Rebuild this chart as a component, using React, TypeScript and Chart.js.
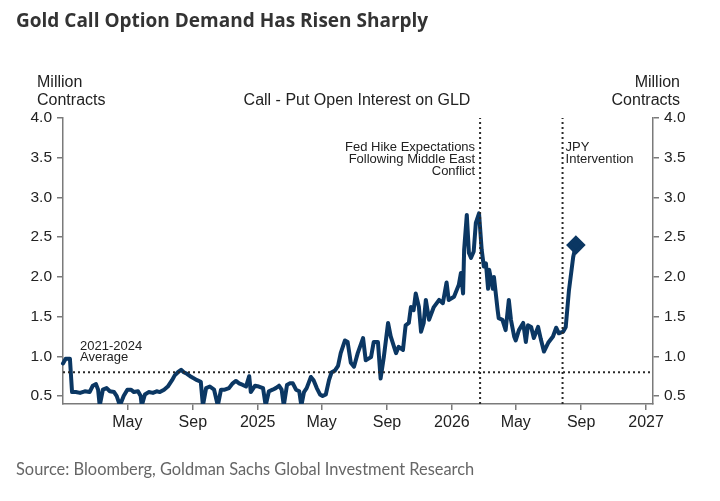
import React, { useEffect, useRef } from "react";
import { Chart, registerables } from "chart.js";

Chart.register(...registerables);

// Call - Put open interest on GLD, million contracts
const dates = [
  "2024-01-01", "2024-01-06", "2024-01-14", "2024-01-18", "2024-01-25", "2024-02-02", "2024-02-11", "2024-02-20",
  "2024-02-26", "2024-03-03", "2024-03-07", "2024-03-10", "2024-03-16", "2024-03-23", "2024-03-29", "2024-04-06",
  "2024-04-11", "2024-04-17", "2024-04-24", "2024-05-01", "2024-05-08", "2024-05-13", "2024-05-21", "2024-05-26",
  "2024-05-28", "2024-06-03", "2024-06-10", "2024-06-18", "2024-06-25", "2024-07-01", "2024-07-09", "2024-07-16",
  "2024-07-24", "2024-07-29", "2024-08-04", "2024-08-10", "2024-08-15", "2024-08-21", "2024-08-27", "2024-09-01",
  "2024-09-09", "2024-09-16", "2024-09-20", "2024-09-26", "2024-10-03", "2024-10-11", "2024-10-18", "2024-10-24",
  "2024-10-31", "2024-11-08", "2024-11-15", "2024-11-21", "2024-11-27", "2024-12-04", "2024-12-10", "2024-12-16",
  "2024-12-19", "2024-12-27", "2025-01-03", "2025-01-11", "2025-01-16", "2025-01-22", "2025-01-29", "2025-02-04",
  "2025-02-10", "2025-02-15", "2025-02-19", "2025-02-25", "2025-03-02", "2025-03-08", "2025-03-14", "2025-03-20",
  "2025-03-24", "2025-03-29", "2025-04-03", "2025-04-11", "2025-04-16", "2025-04-22", "2025-04-28", "2025-05-03",
  "2025-05-09", "2025-05-15", "2025-05-20", "2025-05-26", "2025-06-01", "2025-06-06", "2025-06-14", "2025-06-19",
  "2025-06-25", "2025-07-01", "2025-07-08", "2025-07-18", "2025-07-23", "2025-08-02", "2025-08-07", "2025-08-15",
  "2025-08-20", "2025-08-26", "2025-09-03", "2025-09-08", "2025-09-18", "2025-09-23", "2025-10-01", "2025-10-06",
  "2025-10-12", "2025-10-16", "2025-10-21", "2025-10-25", "2025-10-31", "2025-11-04", "2025-11-09", "2025-11-13",
  "2025-11-19", "2025-11-28", "2025-12-08", "2025-12-15", "2025-12-22", "2025-12-26", "2026-01-05", "2026-01-14",
  "2026-01-18", "2026-01-22", "2026-01-24", "2026-01-29", "2026-02-02", "2026-02-06", "2026-02-11", "2026-02-15",
  "2026-02-21", "2026-02-26", "2026-03-02", "2026-03-06", "2026-03-10", "2026-03-12", "2026-03-19", "2026-03-21",
  "2026-03-28", "2026-03-30", "2026-04-06", "2026-04-12", "2026-04-18", "2026-04-22", "2026-04-28", "2026-05-01",
  "2026-05-07", "2026-05-15", "2026-05-20", "2026-05-24", "2026-05-30", "2026-06-04", "2026-06-12", "2026-06-17",
  "2026-06-23", "2026-07-01", "2026-07-10", "2026-07-16", "2026-07-21", "2026-07-29", "2026-08-03", "2026-08-09",
  "2026-08-17", "2026-08-22",
];
const callPutOI = [
  0.91, 0.97, 0.97, 0.55, 0.55, 0.54, 0.56, 0.55,
  0.63, 0.65, 0.58, 0.38, 0.58, 0.6, 0.56, 0.55,
  0.5, 0.38, 0.5, 0.58, 0.58, 0.55, 0.56, 0.5,
  0.38, 0.52, 0.55, 0.54, 0.56, 0.55, 0.58, 0.62,
  0.7, 0.76, 0.8, 0.83, 0.8, 0.78, 0.75, 0.73,
  0.7, 0.68, 0.38, 0.6, 0.62, 0.58, 0.38, 0.58,
  0.58, 0.6, 0.66, 0.69, 0.66, 0.64, 0.62, 0.75,
  0.55, 0.63, 0.62, 0.6, 0.38, 0.56, 0.58, 0.6,
  0.63, 0.58, 0.38, 0.64, 0.66, 0.66, 0.58, 0.56,
  0.38, 0.55, 0.6, 0.74, 0.7, 0.6, 0.52, 0.5,
  0.52, 0.7, 0.8, 0.82, 0.88, 1.04, 1.2, 1.18,
  0.92, 0.87, 1.04, 1.23, 0.95, 0.99, 1.18, 1.18,
  0.72, 0.99, 1.42, 1.25, 1.04, 1.12, 1.08, 1.39,
  1.42, 1.62, 1.58, 1.79, 1.62, 1.31, 1.42, 1.71,
  1.46, 1.62, 1.71, 1.67, 1.93, 1.71, 1.75, 1.9,
  2.05, 1.79, 2.34, 2.78, 2.3, 2.24, 2.32, 2.68,
  2.8, 2.34, 2.13, 2.17, 1.85, 2.09, 1.85, 2.0,
  1.58, 1.48, 1.46, 1.33, 1.71, 1.46, 1.25, 1.2,
  1.33, 1.42, 1.18, 1.39, 1.37, 1.23, 1.37, 1.22,
  1.06, 1.17, 1.25, 1.36, 1.29, 1.31, 1.37, 1.83,
  2.25, 2.4,
];

const averageLevel = 0.8; // 2021-2024 average
const fedHikeDate = "2026-02-23";
const jpyInterventionDate = "2026-07-28";

const xStart = "2024-01-01";
const xEnd = "2027-01-14";
const tickDates = [
  "2024-05-01", "2024-09-01", "2025-01-01", "2025-05-01", "2025-09-01",
  "2026-01-01", "2026-05-01", "2026-09-01", "2027-01-01",
];
const tickLabels = ["May", "Sep", "2025", "May", "Sep", "2026", "May", "Sep", "2027"];
const yTicks = [0.5, 1.0, 1.5, 2.0, 2.5, 3.0, 3.5, 4.0];
const yMin = 0.4;
const yMax = 4.0;

const dayOf = (s: string) => (Date.parse(s) - Date.parse(xStart)) / 86400000;

const FONT = "'Liberation Sans', Arial, sans-serif";
const INK = "#222";
const AXIS = "#7a7a7a";
const LINE = "#0b3763";
const DOTS = "#2a2a2a";

const textPlugin = {
  id: "chartText",
  afterDraw(chart: any) {
    const { ctx } = chart;
    const x = chart.scales.x;
    const fedX = x.getPixelForValue(dayOf(fedHikeDate));
    const jpyX = x.getPixelForValue(dayOf(jpyInterventionDate));
    ctx.save();
    ctx.fillStyle = INK;
    ctx.textBaseline = "alphabetic";
    ctx.font = `16px ${FONT}`;
    ctx.textAlign = "left";
    ctx.fillText("Million", 37, 87);
    ctx.fillText("Contracts", 37, 105);
    ctx.textAlign = "right";
    ctx.fillText("Million", 680, 87);
    ctx.fillText("Contracts", 680, 105);
    ctx.textAlign = "center";
    ctx.fillText("Call - Put Open Interest on GLD", 357, 105);

    ctx.font = `13px ${FONT}`;
    ctx.textAlign = "right";
    ctx.fillText("Fed Hike Expectations", fedX - 5, 151);
    ctx.fillText("Following Middle East", fedX - 5, 163);
    ctx.fillText("Conflict", fedX - 5, 175);
    ctx.textAlign = "left";
    ctx.fillText("JPY", jpyX + 3, 151);
    ctx.fillText("Intervention", jpyX + 3, 163);
    ctx.fillText("2021-2024", 80, 349.5);
    ctx.fillText("Average", 80, 361);
    ctx.restore();
  },
};

export default function App() {
  const canvasRef = useRef<HTMLCanvasElement>(null);

  useEffect(() => {
    const points = dates.map((d, i) => ({ x: dayOf(d), y: callPutOI[i] }));
    const last = points.length - 1;
    const x0 = 0;
    const x1 = dayOf(xEnd);

    const dotted = {
      borderColor: DOTS,
      borderWidth: 2,
      borderDash: [2, 3],
      pointRadius: 0,
      yAxisID: "y",
    };

    const chart = new Chart(canvasRef.current!, {
      type: "line",
      data: {
        datasets: [
          {
            ...dotted,
            data: [
              { x: x0, y: averageLevel },
              { x: x1, y: averageLevel },
            ],
          },
          {
            ...dotted,
            data: [
              { x: dayOf(fedHikeDate), y: yMin },
              { x: dayOf(fedHikeDate), y: yMax },
            ],
          },
          {
            ...dotted,
            data: [
              { x: dayOf(jpyInterventionDate), y: yMin },
              { x: dayOf(jpyInterventionDate), y: yMax },
            ],
          },
          {
            data: points,
            borderColor: LINE,
            backgroundColor: LINE,
            borderWidth: 4,
            borderJoinStyle: "round",
            borderCapStyle: "round",
            tension: 0,
            pointStyle: "rectRot",
            pointRadius: (c: any) => (c.dataIndex === last ? 7 : 0),
            pointHoverRadius: 0,
            clip: { left: 4, top: 4, right: 4, bottom: 0 } as any,
            yAxisID: "y",
          },
        ],
      },
      options: {
        responsive: false,
        animation: false,
        events: [],
        layout: { padding: { top: 118, left: 0, right: 0, bottom: 0 } },
        plugins: {
          legend: { display: false },
          tooltip: { enabled: false },
          title: { display: false },
        },
        scales: {
          x: {
            type: "linear",
            min: x0,
            max: x1,
            afterFit: (s: any) => {
              s.height = 97;
            },
            afterBuildTicks: (s: any) => {
              s.ticks = tickDates.map((d) => ({ value: dayOf(d) }));
            },
            border: { display: true, color: AXIS, width: 1.5 },
            grid: { drawOnChartArea: false, drawTicks: true, tickLength: 6, color: AXIS, lineWidth: 1.5 },
            ticks: {
              color: INK,
              font: { family: FONT, size: 16 },
              padding: 3,
              maxRotation: 0,
              autoSkip: false,
              callback: (_v: any, i: number) => tickLabels[i],
            },
          },
          y: {
            position: "left",
            min: yMin,
            max: yMax,
            afterFit: (s: any) => {
              s.width = 63;
            },
            afterBuildTicks: (s: any) => {
              s.ticks = yTicks.map((v) => ({ value: v }));
            },
            border: { display: true, color: AXIS, width: 1.5 },
            grid: { drawOnChartArea: false, drawTicks: true, tickLength: 6, color: AXIS, lineWidth: 1.5 },
            ticks: {
              color: INK,
              font: { family: FONT, size: 15.5 },
              padding: 5,
              callback: (v: any) => Number(v).toFixed(1),
            },
          },
          y2: {
            position: "right",
            min: yMin,
            max: yMax,
            afterFit: (s: any) => {
              s.width = 67;
            },
            afterBuildTicks: (s: any) => {
              s.ticks = yTicks.map((v) => ({ value: v }));
            },
            border: { display: true, color: AXIS, width: 1.5 },
            grid: { drawOnChartArea: false, drawTicks: true, tickLength: 6, color: AXIS, lineWidth: 1.5 },
            ticks: {
              color: INK,
              font: { family: FONT, size: 15.5 },
              padding: 5,
              callback: (v: any) => Number(v).toFixed(1),
            },
          },
        },
      },
      plugins: [textPlugin],
    });

    return () => {
      chart.destroy();
    };
  }, []);

  return (
    <div style={{ position: "relative", width: 720, height: 501, margin: -8, background: "#fff", overflow: "hidden" }}>
      <canvas ref={canvasRef} width={720} height={501} style={{ position: "absolute", left: 0, top: 0 }} />
      <div
        style={{
          position: "absolute",
          left: 16,
          top: 10,
          font: "700 19px/20px 'Open Sans', Lato, sans-serif",
          color: "#333",
          letterSpacing: 0,
          whiteSpace: "nowrap",
        }}
      >
        Gold Call Option Demand Has Risen Sharply
      </div>
      <div
        style={{
          position: "absolute",
          left: 16,
          top: 461,
          font: "400 16.4px/16px Lato, 'Open Sans', sans-serif",
          color: "#666",
          whiteSpace: "nowrap",
        }}
      >
        Source: Bloomberg, Goldman Sachs Global Investment Research
      </div>
    </div>
  );
}
